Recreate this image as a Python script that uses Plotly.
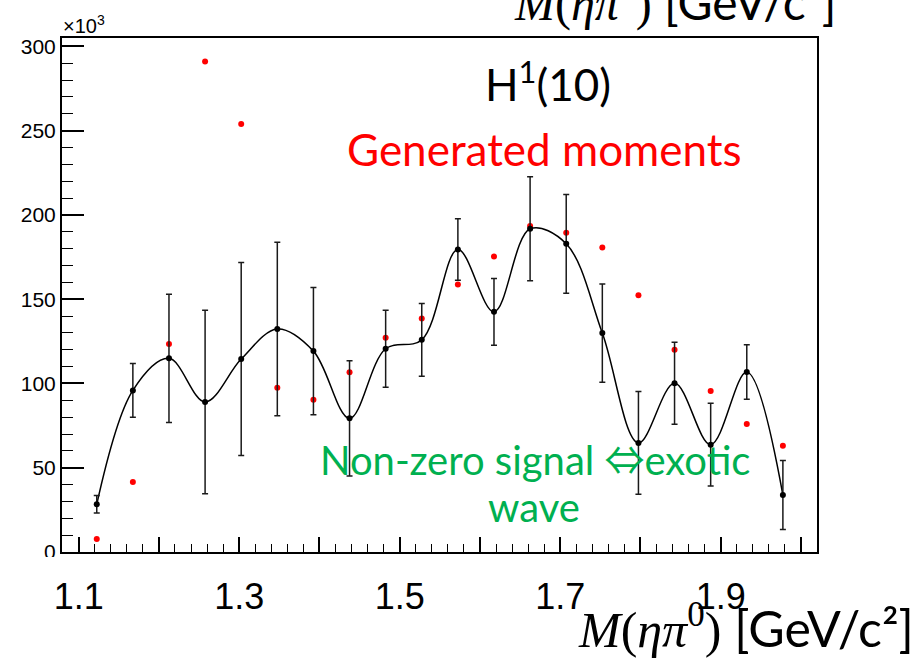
import plotly.graph_objects as go

# ---- data (values in units of 10^3) ----
mass_bins = [1.1225, 1.1675, 1.2125, 1.2575, 1.3025, 1.3475, 1.3925, 1.4375, 1.4825, 1.5275,
             1.5725, 1.6175, 1.6625, 1.7075, 1.7525, 1.7975, 1.8425, 1.8875, 1.9325, 1.9775]
fitted_moment = [28.3, 95.9, 114.9, 89.0, 114.5, 132.3, 119.2, 79.3, 120.6, 125.9,
                 179.5, 142.5, 191.8, 182.9, 129.9, 64.7, 100.1, 63.7, 106.8, 33.8]
fitted_error = [5.2, 15.9, 38.0, 54.5, 57.3, 51.5, 37.8, 34.2, 22.8, 21.6,
                18.3, 19.8, 30.8, 29.3, 29.2, 30.5, 24.3, 24.6, 16.2, 20.5]
generated_moment = [7.7, 41.5, 123.4, 291.0, 253.9, 97.5, 90.3, 106.6, 127.1, 138.6,
                    158.8, 175.4, 193.4, 189.4, 180.7, 152.4, 120.0, 95.5, 75.9, 63.0]

x_tick_vals = [1.1, 1.2, 1.3, 1.4, 1.5, 1.6, 1.7, 1.8, 1.9, 2.0]
x_tick_text = ["1.1", "", "1.3", "", "1.5", "", "1.7", "", "1.9", ""]

# ---- layout geometry (pixels) ----
W, H = 922, 658
L, R, T, B = 62, 817, 37.7, 552
pw, ph = R - L, B - T


def px(xp):
    return (xp - L) / pw


def py(yp):
    return (B - yp) / ph


fig = go.Figure()

fig.add_trace(go.Scatter(
    x=mass_bins, y=generated_moment, mode="markers",
    marker=dict(color="#ff0000", size=6), showlegend=False, hoverinfo="skip"))

fig.add_trace(go.Scatter(
    x=mass_bins, y=fitted_moment, mode="lines",
    line=dict(color="black", width=1.5, shape="spline", smoothing=1.0),
    showlegend=False, hoverinfo="skip"))

fig.add_trace(go.Scatter(
    x=mass_bins, y=fitted_moment, mode="markers",
    marker=dict(color="black", size=6),
    error_y=dict(type="data", array=fitted_error, visible=True,
                 color="#1a1a1a", thickness=1.5, width=3),
    showlegend=False))

tick_font = dict(family="Liberation Sans, Arial, sans-serif", color="black")

fig.update_xaxes(
    range=[1.0792, 2.02], tickmode="array", tickvals=x_tick_vals, ticktext=x_tick_text,
    ticks="inside", ticklen=15, tickwidth=1.5, tickcolor="black",
    minor=dict(tickmode="linear", tick0=1.1, dtick=0.02, ticks="inside",
               ticklen=8, tickwidth=1.2, tickcolor="black"),
    showline=True, linewidth=2, linecolor="black", mirror=True,
    showgrid=False, zeroline=False,
    tickfont=dict(size=36, **tick_font), ticklabelstandoff=12)

fig.update_yaxes(
    range=[0, 305], tickmode="linear", tick0=0, dtick=50,
    ticks="inside", ticklen=22, tickwidth=1.5, tickcolor="black",
    minor=dict(tickmode="linear", tick0=0, dtick=10, ticks="inside",
               ticklen=11, tickwidth=1.2, tickcolor="black"),
    showline=True, linewidth=2, linecolor="black", mirror=True,
    showgrid=False, zeroline=False,
    tickfont=dict(size=21, **tick_font))

text_font = "Lato, Calibri, sans-serif"
math_span = ('<span style="font-family:Liberation Serif,serif"><i>M</i>(<i>ηπ</i>'
             '<sup>0</sup>)</span> [GeV/c²]')
arrow = '<span style="font-family:Noto Sans CJK SC">⇔</span>'

annotations = [
    dict(text="×10<sup>3</sup>", x=px(61), y=py(24), xanchor="left", yanchor="middle",
         font=dict(size=20, family="Liberation Sans, Arial", color="black")),
    dict(text="H<sup>1</sup>(10)", x=px(547.5), y=py(81), xanchor="center", yanchor="middle",
         font=dict(size=44, family=text_font, color="black")),
    dict(text="Generated moments", x=px(544.5), y=py(149), xanchor="center", yanchor="middle",
         font=dict(size=44, family=text_font, color="#ff0000")),
    dict(text="Non-zero signal " + arrow + "exotic", x=px(535), y=py(458),
         xanchor="center", yanchor="middle",
         font=dict(size=40, family=text_font, color="#00b050")),
    dict(text="wave", x=px(534), y=py(507), xanchor="center", yanchor="middle",
         font=dict(size=40, family=text_font, color="#00b050")),
    dict(text=math_span, x=px(916), y=py(627), xanchor="right", yanchor="middle",
         font=dict(size=50, family=text_font, color="black")),
    dict(text=math_span, x=px(838), y=py(0), xanchor="right", yanchor="middle",
         font=dict(size=48, family=text_font, color="black")),
]
for a in annotations:
    a.update(xref="paper", yref="paper", showarrow=False)

fig.update_layout(
    width=W, height=H,
    margin=dict(l=L, r=W - R, t=T, b=H - B, pad=0),
    paper_bgcolor="white", plot_bgcolor="white",
    annotations=annotations,
    shapes=[dict(type="rect", xref="paper", yref="paper",
                 x0=px(0), x1=px(60), y0=py(580), y1=py(557),
                 fillcolor="white", line=dict(width=0), layer="above")],
)

fig.write_html("out.html")
